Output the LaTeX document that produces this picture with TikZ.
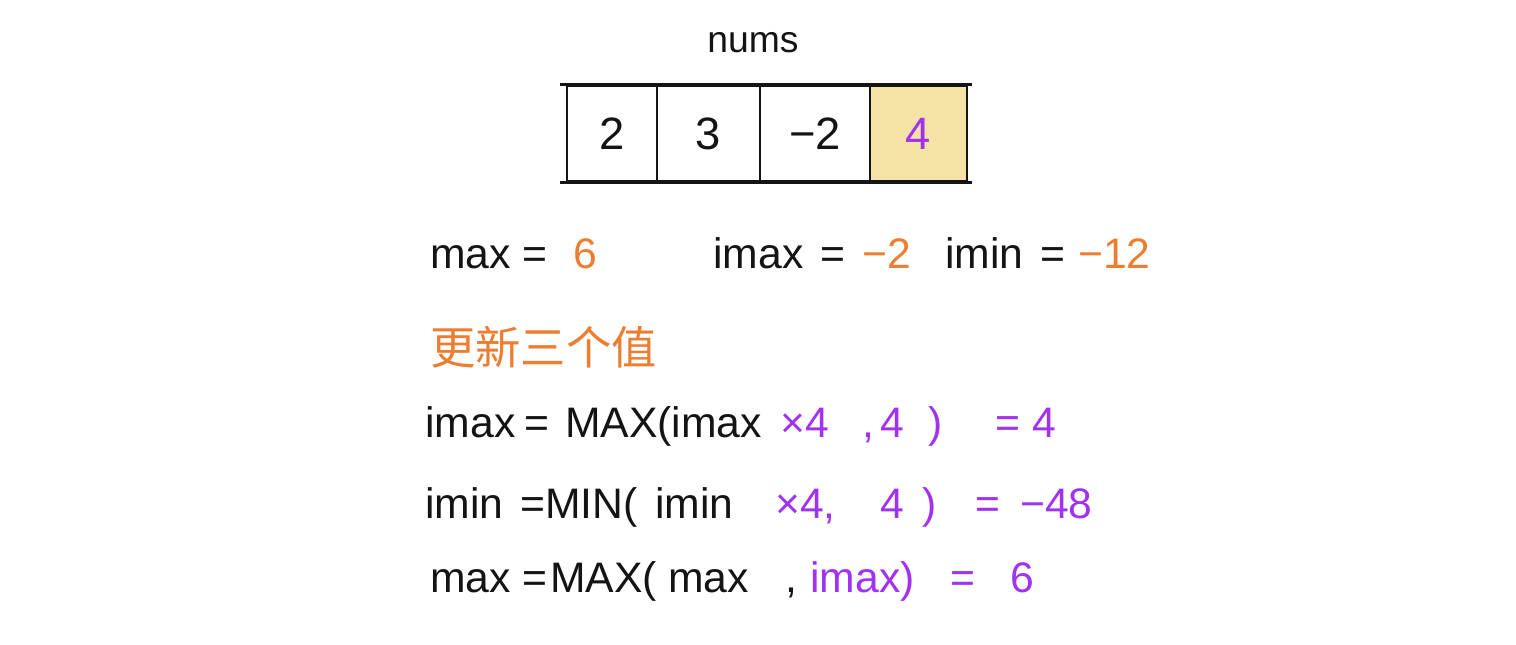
\documentclass[tikz,border=0pt]{standalone}
\usepackage{fontspec}
\setmainfont{Liberation Sans}
\newfontfamily\cjk{Noto Sans CJK SC}
\definecolor{hand}{RGB}{20,20,20}
\definecolor{orng}{RGB}{237,125,49}
\definecolor{purp}{RGB}{160,50,240}
\definecolor{cellfill}{RGB}{245,227,165}
\begin{document}
\begin{tikzpicture}[x=0.75pt,y=-0.75pt,
  txt/.style={anchor=base west,inner sep=0pt,text=hand,font=\fontsize{32}{36}\selectfont},
  otxt/.style={txt,text=orng},
  ptxt/.style={txt,text=purp},
  cellbox/.style={draw=hand,line width=2pt,minimum height=95*0.75pt,inner sep=0pt,font=\fontsize{34}{38}\selectfont,text=hand}]
\useasboundingbox (0,0) rectangle (1516,644);
% title
\node[txt,font=\fontsize{28}{32}\selectfont] (title) at (707,52) {nums};
% array cells
\node[cellbox,minimum width=90*0.75pt] (c1) at (612,133.5) {2};
\node[cellbox,minimum width=103*0.75pt] (c2) at (708.5,133.5) {3};
\node[cellbox,minimum width=110*0.75pt] (c3) at (815,133.5) {−2};
\node[cellbox,minimum width=97*0.75pt,fill=cellfill,text=purp] (c4) at (918.5,133.5) {4};
\draw[draw=hand,line width=2pt] (c1.north west) ++(-6,0) coordinate (tl) -- (tl -| c4.north east) -- ++(4,0);
\draw[draw=hand,line width=2pt] (c1.south west) ++(-6,0) coordinate (bl) -- (bl -| c4.south east) -- ++(4,0);
% row 1
\node[txt] (m1) at (430,268) {max};
\node[txt] (e1) at (522,268) {=};
\node[otxt] (v1) at (573,268) {6};
\node[txt] (m2) at (713,268) {imax};
\node[txt] (e2) at (820,268) {=};
\node[otxt] (v2) at (862,268) {−2};
\node[txt] (m3) at (945,268) {imin};
\node[txt] (e3) at (1040,268) {=};
\node[otxt] (v3) at (1078,268) {−12};
% heading
\node[anchor=west,inner sep=0pt,text=orng,font=\cjk\fontsize{34}{38}\selectfont] (head) at (430,347) {更新三个值};
% row 2
\node[txt] (a1) at (425,437) {imax};
\node[txt] (a2) at (524,437) {=};
\node[txt] (a3) at (565,437) {MAX(imax};
\node[ptxt] (a4) at (780,437) {×4};
\node[ptxt] (a5) at (862,437) {,};
\node[ptxt] (a6) at (880,437) {4};
\node[ptxt] (a7) at (928,437) {)};
\node[ptxt] (a8) at (995,437) {= 4};
% row 3
\node[txt] (b1) at (425,518) {imin};
\node[txt] (b2) at (520,518) {=};
\node[txt] (b3) at (545,518) {MIN(};
\node[txt] (b4) at (655,518) {imin};
\node[ptxt] (b5) at (775,518) {×4,};
\node[ptxt] (b6) at (880,518) {4};
\node[ptxt] (b7) at (922,518) {)};
\node[ptxt] (b8) at (975,518) {=};
\node[ptxt] (b9) at (1020,518) {−48};
% row 4
\node[txt] (d1) at (430,592) {max};
\node[txt] (d2) at (522,592) {=};
\node[txt] (d3) at (550,592) {MAX(};
\node[txt] (d4) at (668,592) {max};
\node[txt] (d5) at (785,592) {,};
\node[ptxt] (d6) at (810,592) {imax)};
\node[ptxt] (d7) at (950,592) {=};
\node[ptxt] (d8) at (1010,592) {6};
\end{tikzpicture}
\end{document}
